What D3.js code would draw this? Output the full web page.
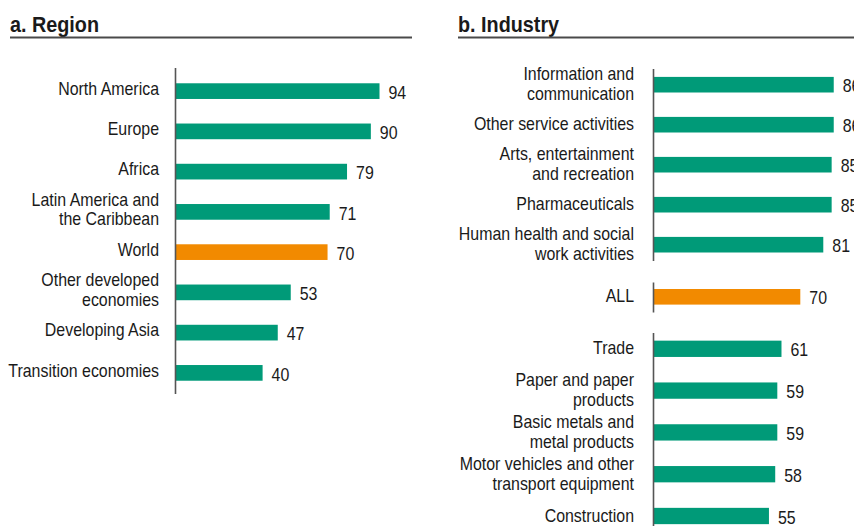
<!DOCTYPE html>
<html>
<head>
<meta charset="utf-8">
<script src="https://cdn.jsdelivr.net/npm/d3@7"></script>
<style>
  html, body { margin: 0; padding: 0; background: #fff; }
  svg text { font-family: "Liberation Sans", Arial, sans-serif; fill: #1a1a1a; }
</style>
</head>
<body>
<svg id="chart" width="854" height="526"></svg>
<script>
// Panel a: by region
const regionNames = [
  "North America", "Europe", "Africa", "Latin America and\nthe Caribbean",
  "World", "Other developed\neconomies", "Developing Asia", "Transition economies"
];
const regionValues = [94, 90, 79, 71, 70, 53, 47, 40];

// Panel b: by industry (above average, overall, below average)
const industryTopNames = [
  "Information and\ncommunication", "Other service activities",
  "Arts, entertainment\nand recreation", "Pharmaceuticals",
  "Human health and social\nwork activities"
];
const industryTopValues = [86, 86, 85, 85, 81];
const industryAllNames = ["ALL"];
const industryAllValues = [70];
const industryBottomNames = [
  "Trade", "Paper and paper\nproducts", "Basic metals and\nmetal products",
  "Motor vehicles and other\ntransport equipment", "Construction"
];
const industryBottomValues = [61, 59, 59, 58, 55];

const highlighted = ["World", "ALL"];

const GREEN = "#009a78";
const ORANGE = "#f28a00";
const FONT = 17.5;
const NARROW = 0.91;   // horizontal squeeze giving a condensed face

const svg = d3.select("#chart");

function title(text, x0, x1) {
  svg.append("text")
    .attr("transform", `translate(${x0},31.5) scale(0.9,1)`)
    .attr("font-size", 22).attr("font-weight", "bold")
    .text(text);
  svg.append("line")
    .attr("x1", x0).attr("x2", x1)
    .attr("y1", 37.5).attr("y2", 37.5)
    .attr("stroke", "#4a4a4a").attr("stroke-width", 2);
}

// One block of horizontal bars sharing a vertical baseline
function barGroup(names, values, x, yRange, opts) {
  const rows = names.map((n, i) => ({ name: n, value: values[i] }));
  const y = d3.scaleBand()
    .domain(rows.map(d => d.name))
    .range(yRange)
    .paddingInner(0.61).paddingOuter(0.305);
  const g = svg.append("g");

  g.selectAll("rect.bar").data(rows).join("rect")
    .attr("class", "bar")
    .attr("x", x(0))
    .attr("y", d => y(d.name))
    .attr("width", d => x(d.value) - x(0))
    .attr("height", y.bandwidth())
    .attr("fill", d => highlighted.includes(d.name) ? ORANGE : GREEN);

  g.append("line")
    .attr("x1", x(0) - 0.5).attr("x2", x(0) - 0.5)
    .attr("y1", opts.axisTop).attr("y2", opts.axisBottom)
    .attr("stroke", "#555").attr("stroke-width", 1.6);

  const mid = d => y(d.name) + y.bandwidth() / 2;

  g.selectAll("text.val").data(rows).join("text")
    .attr("class", "val")
    .attr("transform", d => `translate(${x(d.value) + 9},${mid(d) + 1.5}) scale(${NARROW},1)`)
    .attr("dy", "0.35em")
    .attr("font-size", FONT)
    .text(d => d.value);

  const labels = g.selectAll("text.cat").data(rows).join("text")
    .attr("class", "cat")
    .attr("text-anchor", "end")
    .attr("font-size", FONT)
    .attr("transform", d => `translate(${opts.labelX},${mid(d) + opts.labelShift}) scale(${NARROW},1)`);
  labels.each(function (d) {
    const lines = d.name.split("\n");
    const t = d3.select(this);
    lines.forEach((ln, i) => {
      t.append("tspan")
        .attr("x", 0)
        .attr("y", (i - (lines.length - 1) / 2) * 20)
        .attr("dy", "0.35em")
        .text(ln);
    });
  });
}

// Panel a
title("a. Region", 10, 412);
const xRegion = d3.scaleLinear().domain([0, 100]).range([176, 176 + 216.5]);
barGroup(regionNames, regionValues, xRegion, [71, 393],
  { axisTop: 68, axisBottom: 394, labelX: 159, labelShift: -2.5 });

// Panel b
title("b. Industry", 458, 860);
const xIndustry = d3.scaleLinear().domain([0, 100]).range([654, 654 + 209]);
barGroup(industryTopNames, industryTopValues, xIndustry, [64.7, 264.7],
  { axisTop: 69, axisBottom: 261, labelX: 634, labelShift: -0.5 });
barGroup(industryAllNames, industryAllValues, xIndustry, [276.8, 316.8],
  { axisTop: 282.5, axisBottom: 312.5, labelX: 634, labelShift: -0.5 });
barGroup(industryBottomNames, industryBottomValues, xIndustry, [327.9, 536.9],
  { axisTop: 333, axisBottom: 540, labelX: 634, labelShift: -0.5 });
</script>
</body>
</html>
